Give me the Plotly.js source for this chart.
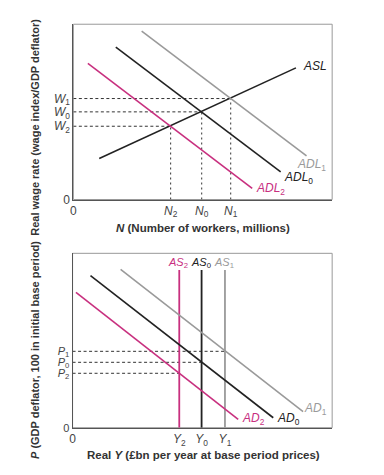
<!DOCTYPE html>
<html>
<head>
<meta charset="utf-8">
<script src="https://cdn.plot.ly/plotly-3.0.1.min.js"></script>
<style>html,body{margin:0;padding:0;background:#fff;}#chart{width:384px;height:475px;}</style>
</head>
<body>
<div id="chart"></div>
<script>
// ---- Top panel: labour market ----
const aslX = [10, 86];
const aslY = [23.4, 75.1];
const adl1X = [26.4, 90.1];
const adl1Y = [96.0, 24.9];
const adl0X = [16.4, 80.1];
const adl0Y = [87.0, 15.7];
const adl2X = [5.6, 69.1];
const adl2Y = [77.6, 6.3];
const wageVals = [57.6, 50.0, 41.8];          // W1, W0, W2
const wageLabels = ['W<sub>1</sub>', 'W<sub>0</sub>', 'W<sub>2</sub>'];
const workerVals = [60.8, 49.6, 37.6];        // N1, N0, N2
const workerLabels = ['N<sub>1</sub>', 'N<sub>0</sub>', 'N<sub>2</sub>'];

// ---- Bottom panel: goods market ----
const asVals = [58.7, 49.7, 41.1];            // AS1, AS0, AS2 (= Y1, Y0, Y2)
const asTop = 90.4;
const asLabels = ['AS<sub>1</sub>', 'AS<sub>0</sub>', 'AS<sub>2</sub>'];
const outputLabels = ['Y<sub>1</sub>', 'Y<sub>0</sub>', 'Y<sub>2</sub>'];
const ad1X = [18.5, 88.8];
const ad1Y = [90.8, 9.2];
const ad0X = [6.9, 77.3];
const ad0Y = [87.2, 5.7];
const ad2X = [1.3, 63.8];
const ad2Y = [77.6, 4.8];
const priceVals = [43.8, 37.5, 31.2];         // P1, P0, P2
const priceLabels = ['P<sub>1</sub>', 'P<sub>0</sub>', 'P<sub>2</sub>'];

const GRAY = '#9a9a9a', BLACK = '#222222', MAG = '#c8307f', DASH = '#333333';
const FONT = 'Liberation Sans, Arial, sans-serif';

const traces = [];
function line(x, y, color, xa, ya, width, dash) {
  traces.push({x: x, y: y, xaxis: xa, yaxis: ya, mode: 'lines', hoverinfo: 'skip',
    line: {color: color, width: width || 1.6, dash: dash || 'solid'}, showlegend: false});
}
// top dashed guides
for (let i = 0; i < 3; i++) {
  line([0, workerVals[i]], [wageVals[i], wageVals[i]], DASH, 'x', 'y', 1, '3px,2.5px');
  line([workerVals[i], workerVals[i]], [0, wageVals[i]], DASH, 'x', 'y', 1, '2px,3px');
}
line(aslX, aslY, BLACK, 'x', 'y');
line(adl1X, adl1Y, GRAY, 'x', 'y');
line(adl0X, adl0Y, BLACK, 'x', 'y');
line(adl2X, adl2Y, MAG, 'x', 'y');

// bottom dashed guides
for (let i = 0; i < 3; i++) {
  line([0, asVals[i]], [priceVals[i], priceVals[i]], DASH, 'x2', 'y2', 1, '3px,2.5px');
}
const asColors = [GRAY, BLACK, MAG];
for (let i = 0; i < 3; i++) line([asVals[i], asVals[i]], [0, asTop], asColors[i], 'x2', 'y2', 1.8);
line(ad1X, ad1Y, GRAY, 'x2', 'y2');
line(ad0X, ad0Y, BLACK, 'x2', 'y2');
line(ad2X, ad2Y, MAG, 'x2', 'y2');

const it = s => s.replace(/^([A-Z]+)/, '<i>$1</i>');
const axBase = {range: [0, 100], showgrid: false, zeroline: false, ticks: '', showline: true,
  linecolor: '#555', linewidth: 1, tickfont: {family: FONT, size: 12, color: '#444'}, fixedrange: true};

const annotations = [];
function ann(text, x, y, xref, yref, color, opts, size) {
  annotations.push(Object.assign({text: text, x: x, y: y, xref: xref, yref: yref, showarrow: false,
    font: {family: FONT, size: size || 12, color: color}, yanchor: 'middle'}, opts || {}));
}
// line labels top
ann('<i>ASL</i>', aslX[1], aslY[1], 'x', 'y', BLACK, {xanchor: 'left', xshift: 5, yshift: 2});
ann('<i>ADL</i><sub>1</sub>', adl1X[1], adl1Y[1], 'x', 'y', GRAY, {xanchor: 'center', xshift: 5, yshift: -9});
ann('<i>ADL</i><sub>0</sub>', adl0X[1], adl0Y[1], 'x', 'y', BLACK, {xanchor: 'left', xshift: 1, yshift: -6});
ann('<i>ADL</i><sub>2</sub>', adl2X[1], adl2Y[1], 'x', 'y', MAG, {xanchor: 'left', xshift: 2, yshift: -1});
// line labels bottom
for (let i = 0; i < 3; i++) ann(it(asLabels[i]), asVals[i], asTop, 'x2', 'y2', asColors[i], {xanchor: 'center', yanchor: 'bottom', xshift: -1, yshift: -2}, 11);
ann('<i>AD</i><sub>1</sub>', ad1X[1], ad1Y[1], 'x2', 'y2', GRAY, {xanchor: 'left', xshift: -1, yshift: 3});
ann('<i>AD</i><sub>0</sub>', ad0X[1], ad0Y[1], 'x2', 'y2', BLACK, {xanchor: 'left', xshift: 2, yshift: -1});
ann('<i>AD</i><sub>2</sub>', ad2X[1], ad2Y[1], 'x2', 'y2', MAG, {xanchor: 'left', xshift: 2, yshift: 0});
// axis titles
const TF = {family: FONT, size: 11.5, color: '#333'};
const TFV = {family: FONT, size: 11, color: '#333'};
annotations.push({text: '<b><i>N</i> (Number of workers, millions)</b>', xref: 'paper', yref: 'paper', x: 0.529, y: 0.5206,
  showarrow: false, font: TF, xanchor: 'center', yanchor: 'middle'});
annotations.push({text: '<b>Real <i>Y</i> (£bn per year at base period prices)</b>', xref: 'paper', yref: 'paper', x: 0.529, y: 0.042,
  showarrow: false, font: TF, xanchor: 'center', yanchor: 'middle'});
annotations.push({text: '<b>Real wage rate (wage index/GDP deflator)</b>', xref: 'paper', yref: 'paper', x: 0.091, y: 0.733,
  showarrow: false, font: TFV, textangle: -90, xanchor: 'center', yanchor: 'middle'});
annotations.push({text: '<b><i>P</i> (GDP deflator, 100 in initial base period)</b>', xref: 'paper', yref: 'paper', x: 0.091, y: 0.263,
  showarrow: false, font: TFV, textangle: -90, xanchor: 'center', yanchor: 'middle'});

const layout = {
  width: 384, height: 475, margin: {l: 0, r: 0, t: 0, b: 0},
  paper_bgcolor: '#fff', plot_bgcolor: '#fff', showlegend: false,
  xaxis: Object.assign({}, axBase, {domain: [0.191, 0.865], anchor: 'y',
    tickvals: [0].concat(workerVals), ticktext: ['0'].concat(workerLabels.map(it))}),
  yaxis: Object.assign({}, axBase, {domain: [0.580, 0.949], anchor: 'x',
    tickvals: [0].concat(wageVals), ticktext: ['0'].concat(wageLabels.map(it))}),
  xaxis2: Object.assign({}, axBase, {domain: [0.189, 0.865], anchor: 'y2',
    tickvals: [0].concat(asVals), ticktext: ['0'].concat(outputLabels.map(it))}),
  yaxis2: Object.assign({}, axBase, {domain: [0.0996, 0.4667], anchor: 'x2',
    tickfont: {family: FONT, size: 11, color: '#444'},
    tickvals: [0].concat(priceVals), ticktext: ['0'].concat(priceLabels.map(it))}),
  shapes: [
    {type: 'rect', xref: 'x domain', yref: 'y domain', x0: 0, x1: 1, y0: 0, y1: 1, line: {color: '#999', width: 1}, layer: 'below'},
    {type: 'rect', xref: 'x2 domain', yref: 'y2 domain', x0: 0, x1: 1, y0: 0, y1: 1, line: {color: '#999', width: 1}, layer: 'below'}
  ],
  annotations: annotations
};
Plotly.newPlot('chart', traces, layout, {staticPlot: true, displayModeBar: false});
</script>
</body>
</html>
